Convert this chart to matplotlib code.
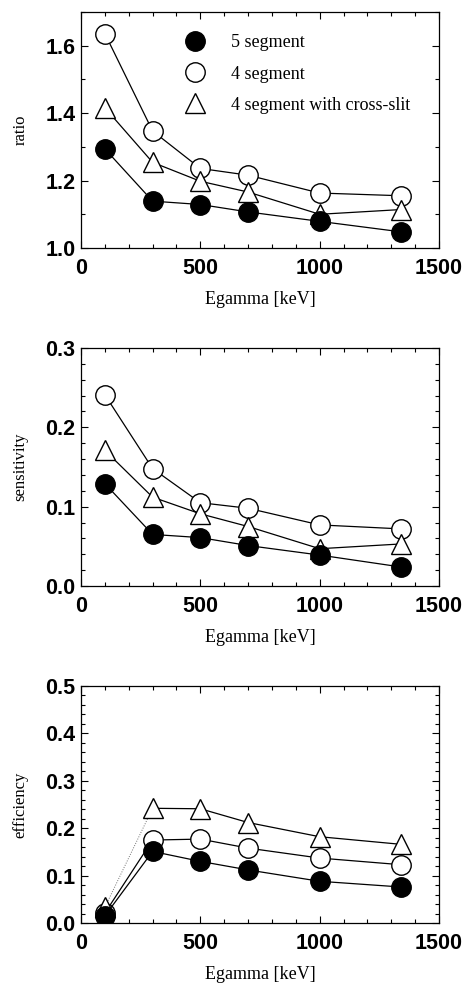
import numpy as np
import matplotlib
matplotlib.use("Agg")
import matplotlib.pyplot as plt
from matplotlib.lines import Line2D
from matplotlib.ticker import MultipleLocator

# gamma energies [keV]
energy = [100, 300, 500, 700, 1000, 1340]

labels = ["5 segment", "4 segment", "4 segment with cross-slit"]

ratio_5seg = [1.294, 1.139, 1.129, 1.107, 1.079, 1.048]
ratio_4seg = [1.636, 1.347, 1.236, 1.216, 1.163, 1.155]
ratio_slit = [1.416, 1.254, 1.198, 1.166, 1.100, 1.114]

sens_5seg = [0.129, 0.065, 0.061, 0.051, 0.039, 0.024]
sens_4seg = [0.241, 0.148, 0.105, 0.098, 0.077, 0.072]
sens_slit = [0.171, 0.112, 0.091, 0.075, 0.047, 0.053]

eff_5seg = [0.015, 0.151, 0.130, 0.112, 0.088, 0.076]
eff_4seg = [0.021, 0.175, 0.177, 0.158, 0.137, 0.123]
eff_slit = [0.033, 0.242, 0.241, 0.212, 0.182, 0.166]

panels = [
    ("ratio", (1.0, 1.7), 0.1, ["1.0", "1.2", "1.4", "1.6"], ratio_5seg, ratio_4seg, ratio_slit),
    ("sensitivity", (0.0, 0.3), 0.02, ["0.0", "0.1", "0.2", "0.3"], sens_5seg, sens_4seg, sens_slit),
    ("efficiency", (0.0, 0.5), 0.02, ["0.0", "0.1", "0.2", "0.3", "0.4", "0.5"], eff_5seg, eff_4seg, eff_slit),
]

serif = "Liberation Serif"
sans = "Liberation Sans"

fig = plt.figure(figsize=(4.67, 9.83), dpi=100)
W, H = 467.0, 983.0
boxes = [(81, 12, 439, 248), (81, 348, 439, 586), (81, 686, 439, 923)]

ms = 14
lw = 0.9
for (ylabel, ylim, minor, yt, s5, s4, sx), (l, t, r, b) in zip(panels, boxes):
    ax = fig.add_axes([l / W, 1 - b / H, (r - l) / W, (b - t) / H])
    ax.plot(energy, s4, color="black", lw=lw, marker="o", ms=ms, mfc="white", mec="black", mew=1.0, zorder=3)
    if ylabel == "efficiency":
        # first segment of the cross-slit curve is drawn faint/dotted
        ax.plot(energy[:2], sx[:2], color="0.45", lw=0.7, ls=(0, (1, 1.5)), zorder=2)
        ax.plot(energy[1:], sx[1:], color="black", lw=lw, zorder=2)
        ax.plot(energy, sx, ls="none", marker="^", ms=ms, mfc="white", mec="black", mew=1.0, zorder=3)
    else:
        ax.plot(energy, sx, color="black", lw=lw, marker="^", ms=ms, mfc="white", mec="black", mew=1.0, zorder=3)
    ax.plot(energy, s5, color="black", lw=lw, marker="o", ms=ms, mfc="black", mec="black", zorder=4)

    ax.set_xlim(0, 1500)
    ax.set_ylim(*ylim)
    ax.xaxis.set_minor_locator(MultipleLocator(100))
    ax.yaxis.set_minor_locator(MultipleLocator(minor))
    ax.set_yticks([float(v) for v in yt])
    ax.set_yticklabels(yt)
    ax.set_xticks([0, 500, 1000, 1500])
    ax.set_xticklabels(["0", "500", "1000", "1500"])
    ax.tick_params(which="both", direction="in", top=True, right=True, width=0.8)
    ax.tick_params(which="major", length=5)
    ax.tick_params(which="minor", length=3)
    ax.tick_params(axis="x", which="major", pad=7)
    ax.tick_params(axis="y", which="major", pad=4)
    for lab in ax.get_xticklabels() + ax.get_yticklabels():
        lab.set_fontfamily(sans)
        lab.set_fontweight("bold")
        lab.set_fontsize(15.5)
    for sp in ax.spines.values():
        sp.set_linewidth(0.9)
    ax.set_xlabel("Egamma [keV]", fontfamily=serif, fontsize=13, labelpad=9)
    ax.set_ylabel(ylabel, fontfamily=serif, fontsize=12, labelpad=12)

    if ylabel == "ratio":
        handles = [
            Line2D([], [], ls="none", marker="o", ms=ms, mfc="black", mec="black"),
            Line2D([], [], ls="none", marker="o", ms=ms, mfc="white", mec="black", mew=1.0),
            Line2D([], [], ls="none", marker="^", ms=ms, mfc="white", mec="black", mew=1.0),
        ]
        ax.legend(handles, labels, loc="upper left", bbox_to_anchor=(0.288, 0.905),
                  frameon=False, borderpad=0, borderaxespad=0, handlelength=1.2,
                  handletextpad=1.4, labelspacing=0.78,
                  prop={"family": serif, "size": 13})

fig.savefig("out.png", dpi=100)
